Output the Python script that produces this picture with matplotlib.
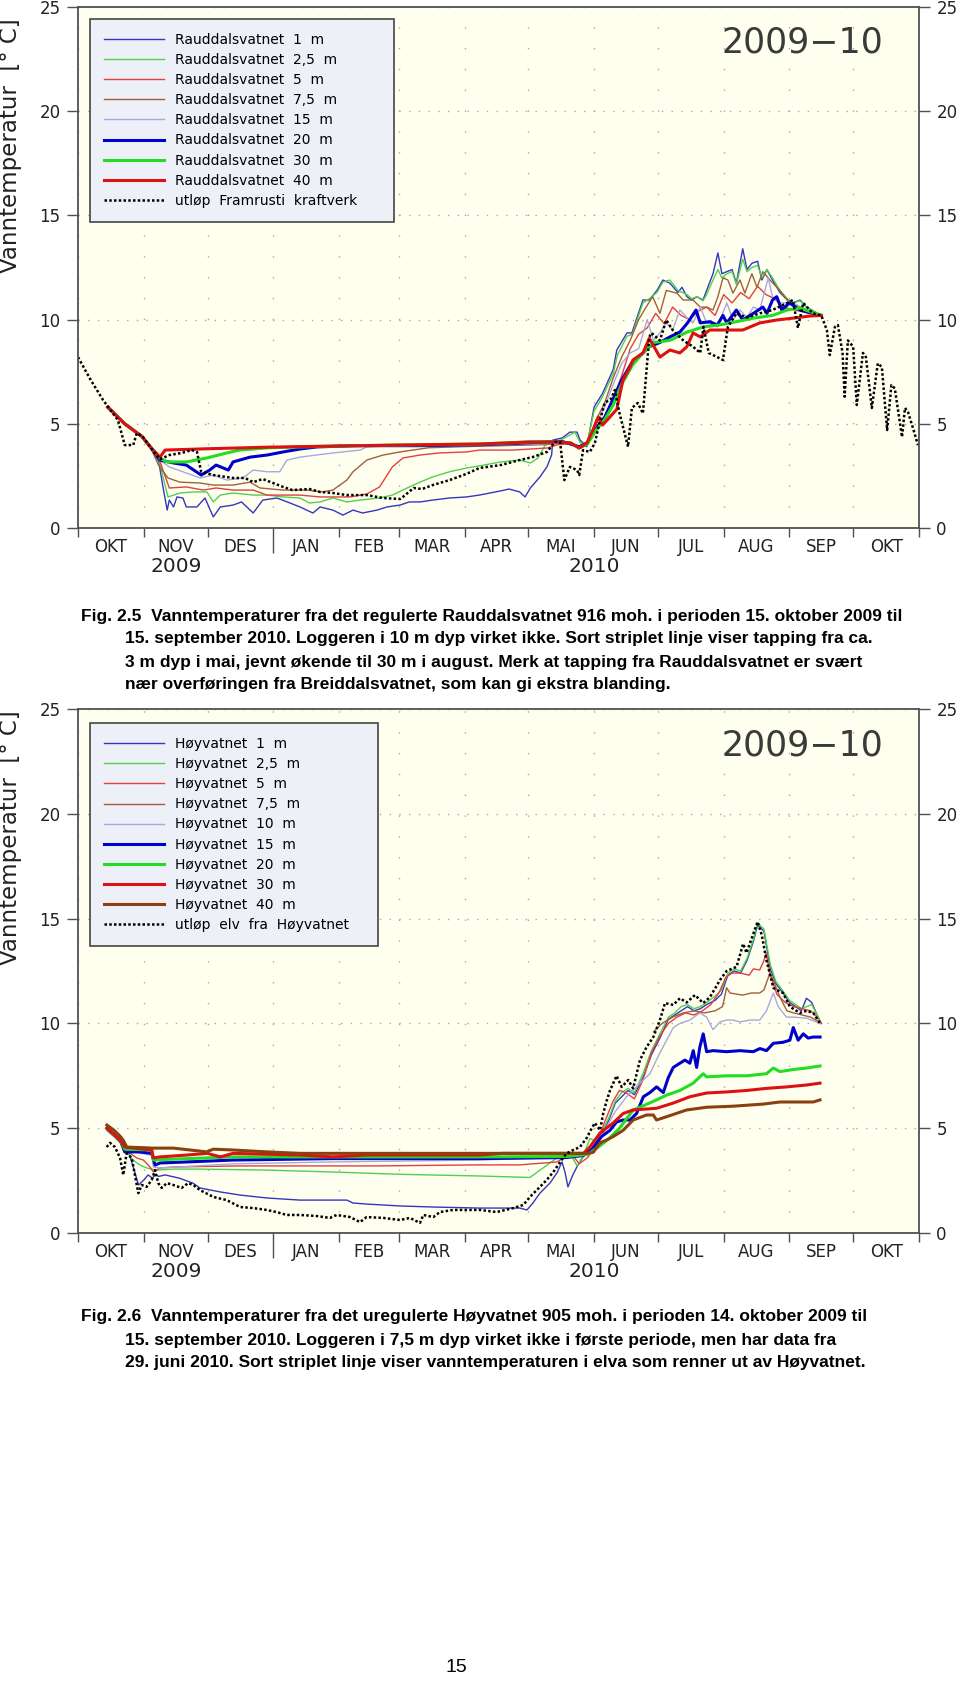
import datetime as dt
import matplotlib
matplotlib.use("Agg")
import matplotlib.pyplot as plt

# ---------------- axis categories ----------------
MONTHS = ['OKT', 'NOV', 'DES', 'JAN', 'FEB', 'MAR', 'APR', 'MAI', 'JUN', 'JUL', 'AUG', 'SEP', 'OKT']
YEARS = ['2009', '2010']
YEAR_POS = [46, 243]          # day position (days since 1 Oct 2009) of year labels
YTICKS = [0, 5, 10, 15, 20, 25]

# ---------------- Fig 2.5 : Rauddalsvatnet (x = days since 1 Oct 2009, y = deg C) ----------------
R1_day = [14, 18, 22, 26, 30, 34, 38, 40, 42, 43, 45, 46.6, 49.4, 51, 56, 59.8, 63.7, 67, 73, 77, 82.5, 87, 93.7, 99.8, 104.5, 110.6, 114, 120, 124.8, 129.5, 134, 140.8, 145.5, 151.6, 156, 161, 167, 175, 183, 189, 199, 203, 208, 210.5, 213, 217.5, 220.8, 223, 223.6, 228, 231.6, 235, 236.4, 239.6, 243, 247, 252, 253.7, 258.5, 260.8, 266, 269, 272.6, 275.4, 278.7, 282.5, 284.4, 286.7, 289, 291.4, 294.3, 296, 299, 301.3, 303.2, 305.5, 308, 310, 313, 315, 317.3, 320, 322, 324.4, 327, 330.5, 334, 336.6, 340, 343, 350]
R1_temp = [5.8, 5.4, 5.0, 4.7, 4.4, 3.9, 3.2, 1.97, 0.86, 1.34, 1.01, 1.49, 1.44, 1.01, 1.01, 1.44, 0.53, 1.01, 1.1, 1.25, 0.72, 1.34, 1.44, 1.2, 1.01, 0.72, 1.01, 0.86, 0.62, 0.86, 0.72, 0.86, 1.01, 1.1, 1.25, 1.25, 1.34, 1.44, 1.49, 1.58, 1.78, 1.87, 1.73, 1.49, 1.92, 2.45, 2.93, 3.5, 4.22, 4.32, 4.6, 4.6, 4.22, 3.9, 5.8, 6.46, 7.6, 8.54, 9.36, 9.36, 10.94, 10.94, 11.4, 11.9, 11.75, 11.3, 11.55, 11.1, 10.94, 11.1, 10.94, 11.4, 12.2, 13.2, 12.2, 12.3, 12.4, 11.75, 13.4, 12.4, 12.7, 12.8, 11.9, 12.4, 11.9, 11.3, 10.94, 10.8, 10.94, 10.6, 10.2]

R25_day = [14, 18, 22, 26, 30, 34, 38, 40, 42.4, 48, 54, 60.7, 63.7, 67, 73, 82.5, 89, 96.6, 104.5, 109, 114, 120, 126.6, 132.8, 142, 148, 155, 161, 167, 175, 183, 189, 199, 208, 213, 216.6, 220, 225.5, 230, 234, 236.4, 239.6, 243, 247, 252, 254, 258.5, 261, 266, 269, 272.6, 275.4, 278.7, 282.5, 286.7, 289, 291.4, 294.3, 296, 299, 301.3, 303.2, 305.5, 308, 310, 313, 315, 317.3, 320, 322, 324.4, 327, 330.5, 334, 336.6, 340, 343, 350]
R25_temp = [5.8, 5.4, 5.0, 4.7, 4.4, 3.9, 3.3, 2.45, 1.49, 1.68, 1.73, 1.73, 1.25, 1.58, 1.68, 1.58, 1.58, 1.49, 1.44, 1.2, 1.25, 1.44, 1.25, 1.34, 1.44, 1.58, 1.92, 2.2, 2.45, 2.7, 2.88, 2.98, 3.17, 3.26, 3.12, 3.36, 3.98, 4.13, 4.37, 4.6, 4.1, 4.0, 5.6, 6.3, 7.4, 8.3, 9.2, 9.3, 10.8, 11.0, 11.3, 11.8, 11.9, 11.4, 11.2, 11.0, 11.1, 10.9, 11.2, 11.9, 12.4, 12.0, 12.2, 12.3, 11.7, 12.9, 12.3, 12.5, 12.6, 12.0, 12.4, 12.0, 11.4, 11.0, 10.8, 10.9, 10.6, 10.2]

R5_day = [14, 18, 22, 26, 30, 34, 38, 40, 43, 51, 59, 65, 73, 82.5, 89, 104.5, 114, 128, 136, 142, 148, 153, 161, 170, 183, 189, 205, 221, 226, 232, 236, 240, 244, 248, 252, 256, 260, 264, 268, 272, 276, 280, 284, 288, 292, 296, 300, 304, 308, 312, 316, 320, 324, 328, 332, 336, 340, 344, 350]
R5_temp = [5.8, 5.4, 5.0, 4.7, 4.4, 3.9, 3.4, 2.78, 1.92, 1.97, 1.82, 1.92, 1.82, 1.82, 1.58, 1.58, 1.49, 1.49, 1.63, 1.97, 2.93, 3.36, 3.5, 3.6, 3.65, 3.74, 3.74, 3.84, 4.0, 4.05, 3.8, 4.0, 4.8, 5.4, 6.2, 7.3, 8.6, 9.3, 9.6, 10.3, 9.8, 10.6, 10.2, 10.0, 10.4, 10.6, 10.2, 11.2, 10.8, 11.3, 11.0, 11.6, 11.2, 11.0, 10.6, 10.5, 10.4, 10.3, 10.2]

R75_day = [14, 18, 22, 26, 30, 34, 38, 42.4, 48, 57.4, 63.7, 73, 81, 85.7, 96.6, 107.8, 115, 120, 126.6, 129.5, 136, 143.6, 151.6, 157.7, 165, 180, 200, 220, 230, 236, 240, 244, 248, 252, 256, 260, 264, 267.5, 270.6, 274, 277, 282, 285, 289.6, 293, 296, 299, 301.3, 303.7, 306, 308.4, 311.7, 314, 317.3, 319.7, 322.5, 325.8, 330.5, 334, 340, 344, 350]
R75_temp = [5.8, 5.4, 5.0, 4.7, 4.4, 3.9, 3.0, 2.4, 2.2, 2.16, 2.06, 2.06, 2.2, 1.92, 1.82, 1.82, 1.73, 1.82, 2.3, 2.7, 3.26, 3.5, 3.65, 3.74, 3.85, 3.9, 3.95, 4.0, 4.1, 3.9, 4.1, 5.2, 6.0, 7.2, 8.2, 9.0, 10.0, 10.6, 11.1, 10.3, 11.4, 11.27, 10.94, 10.94, 10.6, 10.6, 10.46, 11.1, 12.0, 11.9, 11.27, 11.9, 11.27, 12.2, 11.55, 12.3, 11.9, 11.4, 10.94, 10.6, 10.4, 10.2]

R15_day = [14, 18, 22, 26, 30, 34, 38.6, 43, 51, 57.4, 63.7, 70, 77.7, 82.5, 89, 95, 98.4, 104.5, 120, 132.8, 136, 150, 180, 220, 232, 236, 240, 244, 248, 252, 256, 260, 264, 268, 271, 274, 277, 280, 283.4, 286.7, 289.6, 293, 296, 301, 305.5, 308.4, 311.7, 315, 318, 321, 325, 327, 330.5, 336.6, 343, 350]
R15_temp = [5.8, 5.4, 5.0, 4.7, 4.4, 3.9, 3.26, 2.93, 2.64, 2.4, 2.54, 2.3, 2.4, 2.78, 2.7, 2.7, 3.26, 3.4, 3.6, 3.74, 3.89, 3.95, 3.95, 4.05, 4.1, 3.9, 4.1, 5.0, 5.8, 6.9, 7.9, 8.4, 8.6, 10.0, 9.0, 9.36, 9.84, 9.5, 10.46, 10.1, 9.84, 10.6, 9.84, 9.65, 10.8, 9.98, 10.46, 10.1, 10.6, 10.46, 12.0, 11.1, 10.8, 10.8, 10.46, 10.2]

R20_day = [14, 18, 22, 26, 30, 34, 38.6, 45, 51, 58, 62, 65, 70.8, 73, 81, 89, 96.6, 104.5, 112.5, 130, 160, 190, 215, 228, 236, 240, 244, 248, 252, 256, 261, 265, 269, 274, 278.7, 283.4, 287, 291, 293, 297.5, 301, 303.7, 305.5, 310, 313, 318, 322.5, 324.4, 327, 329, 331.4, 335, 340, 346, 350]
R20_temp = [5.8, 5.4, 5.0, 4.7, 4.4, 3.9, 3.26, 3.12, 3.02, 2.54, 2.78, 3.02, 2.78, 3.17, 3.4, 3.5, 3.65, 3.79, 3.89, 3.95, 3.95, 4.0, 4.1, 4.15, 3.9, 4.1, 4.8, 5.3, 6.2, 7.1, 7.97, 8.3, 8.7, 8.9, 9.17, 9.4, 9.84, 10.46, 9.84, 9.9, 9.74, 10.2, 9.84, 10.46, 9.98, 10.3, 10.6, 10.3, 10.94, 11.1, 10.46, 10.8, 10.46, 10.3, 10.2]

R30_day = [14, 18, 22, 26, 30, 34, 38.6, 42, 51, 60.7, 70, 76, 90, 120, 150, 190, 213, 225, 232, 236, 240, 244, 248, 252, 256, 261, 266, 271, 278.7, 286.7, 294.5, 302, 310, 318, 327, 334, 340, 350]
R30_temp = [5.8, 5.4, 5.0, 4.7, 4.4, 3.9, 3.35, 3.17, 3.17, 3.36, 3.6, 3.74, 3.85, 3.93, 3.98, 4.03, 4.13, 4.13, 4.08, 3.84, 4.05, 4.7, 5.2, 5.9, 6.9, 7.8, 8.4, 8.9, 9.0, 9.4, 9.65, 9.74, 9.9, 10.07, 10.2, 10.46, 10.55, 10.2]

R40_day = [14, 18, 22, 26, 30, 34, 38.6, 41, 60, 90, 120, 151.6, 189, 213, 225.5, 232, 236, 239.6, 242.5, 245, 247, 250.5, 253.7, 256.6, 260, 261.3, 266, 269, 274, 278.7, 283.4, 286.7, 289.6, 293, 297.5, 305.5, 313, 321, 329, 336.6, 344.6, 350]
R40_temp = [5.8, 5.4, 5.0, 4.7, 4.4, 3.9, 3.4, 3.74, 3.8, 3.88, 3.93, 3.98, 4.03, 4.13, 4.13, 4.08, 3.84, 4.08, 4.7, 5.33, 4.94, 5.33, 5.7, 7.1, 7.73, 8.06, 8.4, 9.1, 8.2, 8.54, 8.4, 8.7, 9.36, 9.17, 9.5, 9.5, 9.5, 9.84, 9.98, 10.07, 10.17, 10.2]

RD_day = [0, 6, 11.8, 18.8, 22, 26, 27.7, 30.6, 35, 38.6, 43, 48.8, 53.5, 56, 58, 63.7, 73, 78.6, 82.5, 87, 96.6, 101, 109, 114, 120, 126.5, 136, 143.6, 151.6, 153, 158, 162, 167, 175, 183, 189, 199, 208, 214, 220.8, 224.6, 227, 229, 231.6, 235, 236, 237.8, 241, 243.4, 245.8, 248, 251, 252.8, 255, 259, 260.8, 263.6, 266, 269, 270, 274, 277, 280, 285, 289.6, 293, 294.5, 297, 301, 303.7, 306, 310, 315, 321, 327, 334, 336.6, 339, 341.5, 346, 350, 352.6, 354, 356.4, 357.8, 360, 361, 362.5, 365, 366.7, 369.6, 371, 373.8, 376.6, 378.5, 381, 383, 384.6, 388, 389.4, 390.8, 393, 395.5]
RD_temp = [8.2, 7.1, 6.14, 5.18, 3.98, 3.98, 4.55, 4.37, 3.74, 3.3, 3.5, 3.6, 3.74, 3.65, 2.7, 2.54, 2.4, 2.4, 2.2, 2.35, 1.97, 1.82, 1.87, 1.73, 1.68, 1.58, 1.58, 1.44, 1.39, 1.49, 1.92, 1.87, 2.06, 2.3, 2.6, 2.88, 3.02, 3.26, 3.4, 3.65, 4.13, 4.13, 2.3, 2.93, 2.78, 2.54, 3.74, 3.65, 4.08, 5.18, 6.0, 6.2, 6.62, 5.5, 3.9, 5.76, 6.0, 5.5, 9.17, 9.36, 9.0, 9.98, 9.5, 9.0, 8.7, 8.4, 9.65, 8.4, 8.2, 8.06, 9.65, 10.3, 10.1, 10.3, 10.46, 10.8, 10.94, 9.6, 10.8, 10.3, 10.2, 9.5, 8.3, 9.65, 9.74, 8.4, 6.3, 9.0, 8.7, 5.9, 8.4, 8.2, 5.76, 7.9, 7.73, 4.7, 6.86, 6.7, 4.37, 5.76, 5.57, 4.85, 3.98]

# ---------------- Fig 2.6 : Høyvatnet ----------------
H1_day = [13.6, 17, 20, 22, 24, 26, 28.5, 31, 33, 35, 36.5, 38, 41, 47.6, 54.1, 57.4, 66.9, 76.3, 89, 104.5, 126.6, 129.5, 136, 151.6, 167, 189, 198.7, 208, 211.4, 214.2, 217.5, 222.2, 225.5, 227.9, 229.3, 230.7, 233, 234.9, 237.8, 241, 244, 247, 250, 253, 256, 259, 262, 266, 270, 274, 278, 281, 284, 287, 290, 293, 296, 300, 303, 306, 309, 312, 315, 318, 320, 323, 326, 328.6, 331.6, 335, 338, 340.6, 343, 345.5, 348, 350]
H1_temp = [4.9, 4.6, 4.3, 3.87, 3.8, 3.15, 2.29, 2.53, 2.77, 2.62, 2.77, 2.7, 2.77, 2.62, 2.38, 2.15, 1.96, 1.81, 1.67, 1.57, 1.57, 1.43, 1.38, 1.29, 1.24, 1.19, 1.19, 1.19, 1.1, 1.43, 1.9, 2.38, 2.86, 3.39, 2.91, 2.2, 2.77, 3.15, 3.63, 3.87, 4.1, 4.7, 5.4, 6.2, 6.5, 6.8, 6.6, 7.4, 8.5, 9.3, 10.2, 10.4, 10.6, 10.8, 10.6, 10.7, 10.9, 11.1, 11.4, 12.3, 12.5, 12.4, 13.0, 13.9, 14.7, 14.4, 12.6, 11.9, 11.5, 11.0, 10.8, 10.6, 11.2, 11.0, 10.4, 10.0]

H25_day = [13.6, 17, 20, 22, 25.9, 29.2, 32.5, 37, 45, 57, 89, 120, 151.6, 189, 212.8, 218.9, 225.5, 229, 232, 235, 238, 241, 244, 247, 250, 253, 256, 259, 262, 266, 270, 274, 278, 281, 284, 287, 290, 293, 296, 300, 303, 306, 309, 312, 315, 318, 320, 323, 326, 328.6, 331.6, 335, 338, 340.6, 343, 345.5, 348, 350]
H25_temp = [4.9, 4.6, 4.3, 4.0, 3.48, 3.24, 3.1, 3.0, 3.05, 3.05, 3.0, 2.91, 2.8, 2.72, 2.65, 3.1, 3.58, 3.7, 3.75, 3.2, 3.7, 4.5, 4.4, 4.9, 5.5, 6.3, 6.7, 6.9, 6.7, 7.6, 8.7, 9.5, 10.3, 10.5, 10.8, 10.9, 10.7, 10.8, 11.0, 11.3, 11.6, 12.4, 12.6, 12.5, 13.1, 14.0, 14.8, 14.5, 12.8, 12.0, 11.6, 11.1, 10.9, 10.7, 10.8, 10.9, 10.4, 10.0]

H5_day = [13.6, 17, 20, 22, 27.6, 30.8, 33.9, 35.5, 38.6, 45, 76, 140, 189, 208, 225.5, 229, 233, 236, 240, 244, 248, 252, 255, 258, 262, 266, 270, 274, 278, 282, 286, 290, 294, 298, 302, 305, 308, 312, 316, 318, 321, 323, 324, 326, 329, 333, 337, 341, 345, 348, 350]
H5_temp = [4.95, 4.65, 4.35, 4.0, 3.58, 3.48, 3.15, 2.91, 3.1, 3.15, 3.2, 3.2, 3.25, 3.25, 3.39, 3.6, 3.7, 3.3, 3.6, 4.2, 5.3, 6.3, 6.8, 6.7, 6.4, 7.3, 8.6, 9.4, 10.0, 10.3, 10.5, 10.4, 10.6, 10.9, 11.5, 12.2, 12.4, 12.4, 12.3, 12.6, 12.55, 13.0, 13.36, 12.3, 11.4, 11.0, 10.8, 10.7, 10.6, 10.3, 10.0]

H75_day = [271, 275, 280, 285, 290, 295, 300, 303.5, 305.4, 307, 313, 317, 321, 323, 325.8, 327.3, 330.5, 333.8, 337, 341, 345, 350]
H75_temp = [9.6, 10.0, 10.3, 10.5, 10.6, 10.5, 10.6, 10.8, 11.7, 11.45, 11.35, 11.45, 11.45, 11.6, 12.4, 12.07, 11.26, 10.6, 10.5, 10.4, 10.3, 10.0]

H10_day = [13.6, 17, 20, 22, 29.2, 34.7, 35.5, 38.6, 73, 120, 189, 225, 232, 236, 240, 244, 248.9, 253, 258.3, 264.6, 269.3, 274, 277.2, 280.3, 283.4, 288.1, 292.8, 296, 299, 302.3, 305.4, 308.4, 311.7, 316.4, 321, 324.2, 327.4, 329.7, 333.6, 336.8, 343, 349.4]
H10_temp = [4.95, 4.65, 4.35, 3.95, 3.8, 3.72, 3.15, 3.1, 3.3, 3.39, 3.48, 3.6, 3.7, 3.75, 3.8, 4.3, 5.06, 5.8, 6.5, 7.15, 7.6, 8.6, 9.2, 9.8, 10.0, 10.16, 10.5, 10.3, 9.7, 10.07, 10.16, 10.16, 10.07, 10.16, 10.16, 10.6, 11.45, 10.8, 10.3, 10.3, 10.25, 10.0]

H15_day = [13.6, 17, 20, 22, 29.2, 34.7, 36.3, 38.6, 51.3, 73, 120, 189, 230, 238, 242, 246.5, 250.5, 253.6, 256.7, 259.9, 263, 266.2, 269.3, 272.4, 275.6, 277.9, 280.3, 283.4, 285.8, 288.1, 289.7, 291.3, 292.8, 294.4, 296, 299.1, 305.4, 311.7, 317.9, 321.1, 324.2, 327.4, 332, 335.2, 336.8, 339.1, 341.5, 343.8, 346.2, 349.4]
H15_temp = [5.0, 4.7, 4.4, 3.87, 3.87, 3.8, 3.24, 3.34, 3.39, 3.48, 3.55, 3.55, 3.6, 3.7, 4.0, 4.6, 4.9, 5.3, 5.39, 5.39, 5.7, 6.5, 6.7, 6.97, 6.7, 7.4, 7.9, 8.1, 8.25, 8.1, 8.7, 7.9, 8.87, 9.5, 8.65, 8.7, 8.65, 8.7, 8.65, 8.8, 8.7, 9.05, 9.1, 9.2, 9.8, 9.2, 9.5, 9.3, 9.35, 9.35]

H20_day = [13.6, 17, 20, 22, 34.7, 35.5, 38.6, 73, 189, 230, 240, 245, 250, 255, 261.4, 264.6, 272.4, 277.2, 283.4, 289.7, 294.4, 296, 305.4, 314.8, 324.2, 327.4, 330.5, 336.8, 343, 349.4]
H20_temp = [5.0, 4.7, 4.4, 4.0, 3.96, 3.48, 3.5, 3.63, 3.63, 3.65, 3.75, 4.1, 4.5, 5.0, 5.87, 6.0, 6.35, 6.58, 6.8, 7.15, 7.6, 7.45, 7.5, 7.5, 7.6, 7.87, 7.7, 7.8, 7.87, 7.97]

H30_day = [13.6, 17, 20, 22, 34.7, 35.5, 38.6, 51.3, 61, 67, 73, 104.5, 120, 136, 189, 200, 238, 241, 245.8, 252, 256.7, 261.4, 272.4, 280.3, 288.1, 296, 305.4, 314.8, 324.2, 333.6, 343, 349.4]
H30_temp = [5.0, 4.7, 4.4, 4.1, 3.96, 3.58, 3.63, 3.72, 3.8, 3.63, 3.8, 3.72, 3.63, 3.72, 3.72, 3.8, 3.8, 4.1, 4.77, 5.25, 5.7, 5.87, 5.95, 6.2, 6.5, 6.68, 6.73, 6.8, 6.9, 6.97, 7.06, 7.15]

H40_day = [13.6, 17, 20, 21.2, 23, 35.5, 44.9, 60.6, 63.7, 73, 89, 104.5, 189, 240, 242.6, 245.8, 248.9, 252, 256.7, 261.4, 267.7, 270.9, 272.4, 277.2, 286.6, 296, 308.5, 322.6, 330.5, 346.2, 349.4]
H40_temp = [5.15, 4.9, 4.6, 4.44, 4.1, 4.05, 4.05, 3.87, 4.0, 3.96, 3.87, 3.8, 3.8, 3.8, 3.85, 4.3, 4.44, 4.6, 4.9, 5.39, 5.63, 5.63, 5.39, 5.55, 5.87, 6.0, 6.05, 6.15, 6.25, 6.25, 6.35]

HD_day = [13.5, 15.1, 17.4, 19.8, 21.3, 22.9, 25.3, 26.8, 28.4, 30, 32.3, 34.7, 36.3, 37.8, 39.4, 41.8, 44.9, 48.8, 51.9, 54.3, 57.4, 63.7, 70, 76.3, 82.5, 88.8, 93.5, 98.2, 104.5, 112.4, 118.6, 121.8, 128.1, 132.8, 135.9, 143.7, 151.6, 156.3, 161, 162.6, 167.3, 170.4, 176.7, 189.3, 197.1, 205, 209.7, 212.8, 217.5, 220.7, 223.8, 227.7, 230.1, 233.2, 236.3, 239.5, 241.9, 243.4, 245.8, 247.3, 248.9, 250.5, 253.6, 256, 259.1, 261.4, 264.6, 267.7, 270.9, 274, 276.4, 280.3, 283.4, 286.6, 290.5, 294.4, 297.6, 302.3, 305.4, 310.1, 313.2, 314.8, 317, 320, 322, 324.2, 327.4, 328.9, 332, 335.2, 339.9, 343, 346.2, 349.4]
HD_temp = [4.1, 4.3, 4.1, 3.58, 2.77, 3.8, 3.58, 2.77, 1.9, 2.29, 2.2, 2.53, 3.0, 2.38, 2.15, 2.38, 2.29, 2.15, 2.38, 2.29, 2.05, 1.72, 1.57, 1.24, 1.19, 1.1, 1.0, 0.86, 0.86, 0.81, 0.72, 0.86, 0.76, 0.52, 0.76, 0.72, 0.62, 0.72, 0.48, 0.86, 0.76, 1.0, 1.1, 1.1, 1.0, 1.19, 1.34, 1.72, 2.2, 2.53, 2.91, 3.48, 3.8, 3.96, 4.1, 4.53, 5.0, 5.25, 4.9, 5.7, 6.3, 6.8, 7.5, 6.97, 7.3, 6.9, 8.25, 8.87, 9.35, 10.16, 10.97, 10.88, 11.2, 11.0, 11.35, 10.97, 11.26, 12.07, 12.5, 12.7, 13.8, 13.36, 14.0, 14.85, 14.2, 13.0, 11.7, 11.6, 11.45, 10.8, 10.5, 10.6, 10.5, 10.0]

# ---------------- styles ----------------
THIN, THICK = 1.0, 2.2
S_BLUE = dict(color='#3535C0', lw=THIN)
S_GREEN = dict(color='#50D050', lw=THIN)
S_RED = dict(color='#E04040', lw=THIN)
S_BROWN = dict(color='#A0603A', lw=THIN)
S_LAV = dict(color='#A8A8E0', lw=THIN)
T_BLUE = dict(color='#0000CD', lw=THICK)
T_GREEN = dict(color='#22DD22', lw=THICK)
T_RED = dict(color='#DD1111', lw=THICK)
T_BROWN = dict(color='#8B4010', lw=THICK)
DOT = dict(color='black', lw=1.8, linestyle=(0, (1, 0.9)))

TOP_SERIES = [
    (R1_day, R1_temp, 'Rauddalsvatnet  1  m', S_BLUE),
    (R25_day, R25_temp, 'Rauddalsvatnet  2,5  m', S_GREEN),
    (R5_day, R5_temp, 'Rauddalsvatnet  5  m', S_RED),
    (R75_day, R75_temp, 'Rauddalsvatnet  7,5  m', S_BROWN),
    (R15_day, R15_temp, 'Rauddalsvatnet  15  m', S_LAV),
    (R20_day, R20_temp, 'Rauddalsvatnet  20  m', T_BLUE),
    (R30_day, R30_temp, 'Rauddalsvatnet  30  m', T_GREEN),
    (R40_day, R40_temp, 'Rauddalsvatnet  40  m', T_RED),
    (RD_day, RD_temp, 'utløp  Framrusti  kraftverk', DOT),
]
BOT_SERIES = [
    (H1_day, H1_temp, 'Høyvatnet  1  m', S_BLUE),
    (H25_day, H25_temp, 'Høyvatnet  2,5  m', S_GREEN),
    (H5_day, H5_temp, 'Høyvatnet  5  m', S_RED),
    (H75_day, H75_temp, 'Høyvatnet  7,5  m', S_BROWN),
    (H10_day, H10_temp, 'Høyvatnet  10  m', S_LAV),
    (H15_day, H15_temp, 'Høyvatnet  15  m', T_BLUE),
    (H20_day, H20_temp, 'Høyvatnet  20  m', T_GREEN),
    (H30_day, H30_temp, 'Høyvatnet  30  m', T_RED),
    (H40_day, H40_temp, 'Høyvatnet  40  m', T_BROWN),
    (HD_day, HD_temp, 'utløp  elv  fra  Høyvatnet', DOT),
]

START = dt.date(2009, 10, 1)
MONTH_STARTS = [(dt.date(2009 + (9 + i) // 12, (9 + i) % 12 + 1, 1) - START).days for i in range(14)]
MONTH_MID = [(MONTH_STARTS[i] + MONTH_STARTS[i + 1]) / 2 for i in range(13)]

W, H = 960, 1688
fig = plt.figure(figsize=(W / 100, H / 100), dpi=100)
fig.patch.set_facecolor('white')


def rect(left, top, right, bottom):
    return [left / W, 1 - bottom / H, (right - left) / W, (bottom - top) / H]


FRAME = '#505050'


def make_axes(r, series, leg_box, ylab_y):
    ax = fig.add_axes(r)
    ax.set_xlim(MONTH_STARTS[0], MONTH_STARTS[-1])
    ax.set_ylim(0, 25)
    ax.set_facecolor('#FFFFF0')
    for s in ax.spines.values():
        s.set_color(FRAME)
        s.set_linewidth(1.3)
    ax.set_yticks(YTICKS)
    ax.tick_params(axis='y', direction='out', length=8, width=1, color=FRAME,
                   labelsize=12, pad=4.5, left=True, right=True,
                   labelleft=True, labelright=True, labelcolor='#222222')
    ax.set_xticks(MONTH_STARTS)
    ax.set_xticklabels([])
    ax.tick_params(axis='x', direction='out', length=6.5, width=1, color=FRAME)
    for i, t in enumerate(ax.xaxis.get_major_ticks()):
        if i == 3:
            t.tick1line.set_markersize(18)
    ax.xaxis.grid(True, linestyle=(0, (1, 14)), color='#a8a8a8', lw=1.0)
    ax.yaxis.grid(True, linestyle=(0, (1, 6)), color='#a8a8a8', lw=1.0)
    ax.set_axisbelow(True)
    for i, name in enumerate(MONTHS):
        ax.annotate(name, xy=(MONTH_MID[i], 0), xycoords=('data', 'axes fraction'),
                    xytext=(0, -13.7), textcoords='offset points',
                    ha='center', va='center', fontsize=12, color='#222222')
    for name, pos in zip(YEARS, YEAR_POS):
        ax.annotate(name, xy=(pos, 0), xycoords=('data', 'axes fraction'),
                    xytext=(0, -27.4), textcoords='offset points',
                    ha='center', va='center', fontsize=14.5, color='#222222')
    handles = []
    for d, t, lab, st in series:
        if len(d) != len(t):
            raise ValueError(f'{lab}: {len(d)} days vs {len(t)} temps')
        st = dict(st)
        ls = st.pop('linestyle', '-')
        ln, = ax.plot(d, t, linestyle=ls, label=lab, solid_joinstyle='round', **st)
        handles.append(ln)
    leg = ax.legend(handles=handles, loc='upper left', bbox_to_anchor=leg_box,
                    mode='expand', borderaxespad=0, fontsize=10, labelspacing=0.44,
                    handlelength=4.3, handletextpad=0.8, borderpad=1.0,
                    fancybox=False, framealpha=1, facecolor='#EEF0F8',
                    edgecolor='#444444')
    leg.get_frame().set_linewidth(1.2)
    ax.text(0.8615, 0.931, '2009−10', transform=ax.transAxes, ha='center',
            va='center', fontsize=25, color='#3a3a3a')
    fig.text(11 / W, 1 - ylab_y / H, 'Vanntemperatur  [° C]', rotation=90,
             ha='center', va='center', fontsize=16.5, color='#222222')
    return ax


make_axes(rect(78, 7, 919, 528), TOP_SERIES, (0.01427, 0.0, 0.3615, 0.977), 146)
make_axes(rect(78, 709, 919, 1233), BOT_SERIES, (0.01427, 0.0, 0.3424, 0.973), 838)

CAP_FONT = ['Liberation Sans Narrow', 'Liberation Sans', 'DejaVu Sans']
CAP1 = [
    'Fig. 2.5  Vanntemperaturer fra det regulerte Rauddalsvatnet 916 moh. i perioden 15. oktober 2009 til',
    '15. september 2010. Loggeren i 10 m dyp virket ikke. Sort striplet linje viser tapping fra ca.',
    '3 m dyp i mai, jevnt økende til 30 m i august. Merk at tapping fra Rauddalsvatnet er svært',
    'nær overføringen fra Breiddalsvatnet, som kan gi ekstra blanding.',
]
CAP2 = [
    'Fig. 2.6  Vanntemperaturer fra det uregulerte Høyvatnet 905 moh. i perioden 14. oktober 2009 til',
    '15. september 2010. Loggeren i 7,5 m dyp virket ikke i første periode, men har data fra',
    '29. juni 2010. Sort striplet linje viser vanntemperaturen i elva som renner ut av Høyvatnet.',
]
for lines, ys in ((CAP1, [617, 639, 662, 684]), (CAP2, [1316, 1340, 1362])):
    for i, (txt, y) in enumerate(zip(lines, ys)):
        fig.text((81 if i == 0 else 125) / W, 1 - y / H, txt, ha='left', va='center',
                 fontsize=12.5, fontweight='bold', family=CAP_FONT, color='black')

fig.text(456 / W, 1 - 1668 / H, '15', ha='center', va='center', fontsize=14,
         family=['Liberation Sans', 'DejaVu Sans'], color='black')

fig.savefig('out.png', dpi=100)
